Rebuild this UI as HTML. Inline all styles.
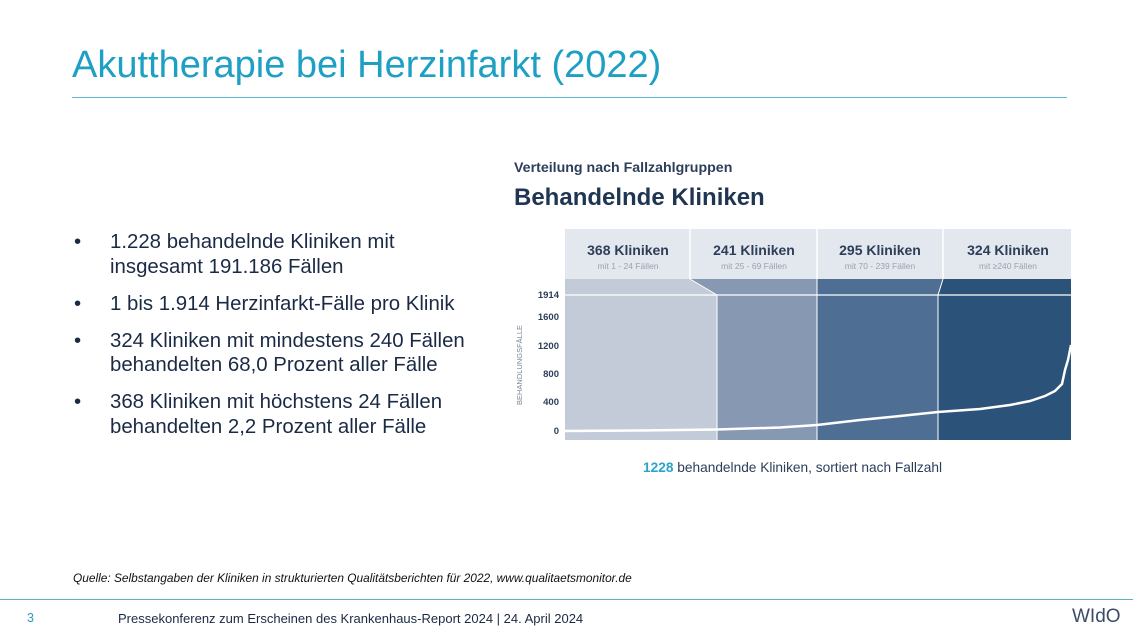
<!DOCTYPE html>
<html><head><meta charset="utf-8"><style>
body{margin:0;width:1140px;height:633px;background:#fff;font-family:"Liberation Sans",sans-serif;position:relative;overflow:hidden}
.a{position:absolute;white-space:nowrap}
</style></head><body>
<div class="a" style="left:72px;top:44px;font-size:38px;color:#1e9fc4">Akuttherapie bei Herzinfarkt (2022)</div>
<div class="a" style="left:72px;top:97px;width:995px;height:1px;background:#5fb8d0"></div>
<div class="a" style="left:72px;top:230px;font-size:20.4px;color:#1b2a44;line-height:24.5px">
<div style="position:relative;padding-left:38px;margin-bottom:12.5px"><span style="position:absolute;left:2px">•</span>1.228 behandelnde Kliniken mit<br>insgesamt 191.186 Fällen</div>
<div style="position:relative;padding-left:38px;margin-bottom:12.5px"><span style="position:absolute;left:2px">•</span>1 bis 1.914 Herzinfarkt-Fälle pro Klinik</div>
<div style="position:relative;padding-left:38px;margin-bottom:12.5px"><span style="position:absolute;left:2px">•</span>324 Kliniken mit mindestens 240 Fällen<br>behandelten 68,0 Prozent aller Fälle</div>
<div style="position:relative;padding-left:38px"><span style="position:absolute;left:2px">•</span>368 Kliniken mit höchstens 24 Fällen<br>behandelten 2,2 Prozent aller Fälle</div>
</div>
<div class="a" style="left:514px;top:160px;font-size:14.2px;font-weight:bold;color:#2d3e5a">Verteilung nach Fallzahlgruppen</div>
<div class="a" style="left:514px;top:184px;font-size:24px;font-weight:bold;color:#1f3552">Behandelnde Kliniken</div>
<svg class="a" style="left:0;top:0" width="1140" height="633" font-family="Liberation Sans, sans-serif">
<rect x="565" y="229" width="506" height="50" fill="#e3e7ee"/>
<g stroke="#fff" stroke-width="1.5"><line x1="690" y1="229" x2="690" y2="279"/><line x1="817" y1="229" x2="817" y2="279"/><line x1="943" y1="229" x2="943" y2="279"/></g>
<g font-weight="bold" font-size="14" fill="#2d3e5a" text-anchor="middle">
<text x="628" y="255">368 Kliniken</text><text x="754" y="255">241 Kliniken</text><text x="880" y="255">295 Kliniken</text><text x="1008" y="255">324 Kliniken</text></g>
<g font-size="8.5" fill="#9aa3b0" text-anchor="middle">
<text x="628" y="269">mit 1 - 24 Fällen</text><text x="754" y="269">mit 25 - 69 Fällen</text><text x="880" y="269">mit 70 - 239 Fällen</text><text x="1008" y="269">mit ≥240 Fällen</text></g>
<polygon points="565,279 690,279 717,295 717,440 565,440" fill="#c4cbd8"/>
<polygon points="690,279 817,279 817,440 717,440 717,295" fill="#8798b3"/>
<polygon points="817,279 943,279 938,295 938,440 817,440" fill="#4f6e93"/>
<polygon points="943,279 1071,279 1071,440 938,440 938,295" fill="#2b5279"/>
<line x1="565" y1="295" x2="1071" y2="295" stroke="#fff" stroke-width="1.2"/>
<g stroke="#fff" stroke-width="1" fill="none"><polyline points="690,279 717,295 717,440"/><line x1="817" y1="279" x2="817" y2="440"/><polyline points="943,279 938,295 938,440"/></g>
<polyline points="565,431 640,430.5 717,429.5 780,427.5 817,425 860,420 900,416 938,412 980,409 1010,405 1030,401 1045,396 1055,391 1062,384 1065,370 1068,360 1071,345" fill="none" stroke="#fff" stroke-width="2.5"/>
<g font-size="9.5" font-weight="bold" fill="#2d3e5a" text-anchor="end">
<text x="559" y="298">1914</text><text x="559" y="320">1600</text><text x="559" y="349">1200</text><text x="559" y="377">800</text><text x="559" y="405">400</text><text x="559" y="434">0</text></g>
<text transform="translate(522,405) rotate(-90)" font-size="7.5" fill="#7a8494">BEHANDLUNGSFÄLLE</text>
<text x="643" y="472" font-size="13.7" fill="#2d3e5a"><tspan fill="#2aa5c9" font-weight="bold">1228</tspan> behandelnde Kliniken, sortiert nach Fallzahl</text>
</svg>
<div class="a" style="left:73px;top:571px;font-size:11.9px;font-style:italic;color:#111">Quelle: Selbstangaben der Kliniken in strukturierten Qualitätsberichten für 2022, www.qualitaetsmonitor.de</div>
<div class="a" style="left:0;top:599px;width:1133px;height:1px;background:#5fb0c4"></div>
<div class="a" style="left:27px;top:611px;font-size:12.5px;color:#2a9dc0">3</div>
<div class="a" style="left:118px;top:611px;font-size:13px;color:#1b2a44">Pressekonferenz zum Erscheinen des Krankenhaus-Report 2024 | 24. April 2024</div>
<div class="a" style="left:1072px;top:606px;font-size:19px;color:#3a4c66">WIdO</div>
</body></html>
